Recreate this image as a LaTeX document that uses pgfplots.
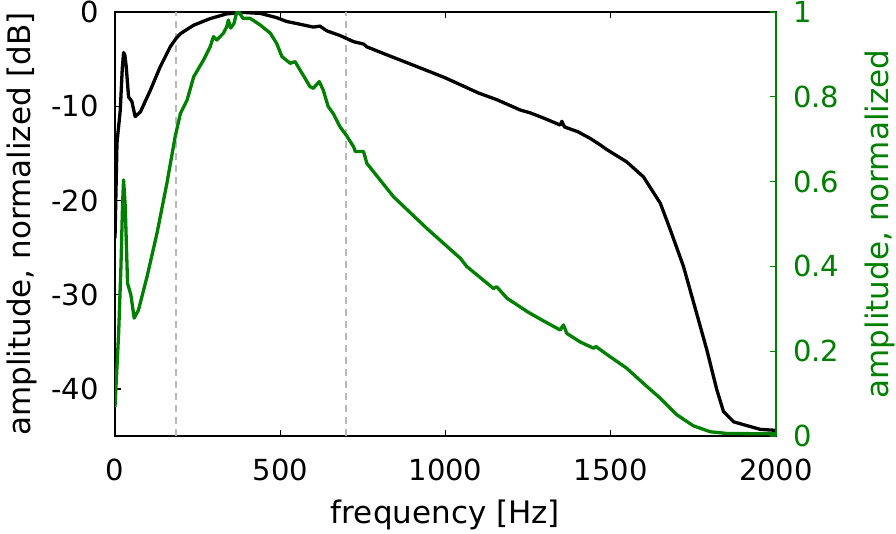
\documentclass[border=0pt]{standalone}
\usepackage{fontspec}
\setmainfont{DejaVu Sans}
\usepackage{pgfplots}
\pgfplotsset{compat=1.18}
\definecolor{mgreen}{RGB}{0,128,0}
\definecolor{dashgray}{RGB}{185,185,185}

\begin{document}
\begin{tikzpicture}
	\begin{axis}[
			width=661pt, height=424pt, scale only axis,
			xmin=0, xmax=2000, ymin=-45, ymax=0,
			xtick={0,500,1000,1500,2000},
			ytick={-40,-30,-20,-10,0},
			xtick pos=both, ytick pos=left,
			tick align=inside,
			major tick length=6pt,
			every tick/.style={black, line width=1.4pt},
			axis line style={line width=1.8pt},
			/pgf/number format/assume math mode=true,
			/pgf/number format/1000 sep={},
			ticklabel style={font=\fontsize{29}{34}\selectfont},
			xticklabel style={anchor=base, inner sep=0pt, yshift=-44pt},
			yticklabel style={anchor=east, inner sep=0pt, xshift=-16pt},
			xlabel={frequency [Hz]},
			ylabel={amplitude, normalized [dB]},
			label style={font=\fontsize{31}{36}\selectfont},
			xlabel style={at={(axis description cs:0.5,0)}, anchor=base, yshift=-87pt},
			ylabel style={at={(axis description cs:-0.1278,0.5)}, anchor=base},
		]
		% band limits
		\addplot[dashgray, line width=1.8pt, dash pattern=on 7pt off 5pt] coordinates {(185,-45) (185,0)};
		\addplot[dashgray, line width=1.8pt, dash pattern=on 7pt off 5pt] coordinates {(700,-45) (700,0)};

		% spectrum in dB
		\addplot[black, line width=3.3pt, line join=round] coordinates {
				(0,-24) (6,-13.9) (16,-10.4) (22,-6) (26,-4.3) (30,-4.6) (34,-5.8)
				(41,-9.0) (51,-9.5) (61,-11.1) (77,-10.6) (107,-8.3) (137,-5.8)
				(167,-3.7) (185,-2.8) (198,-2.3) (238,-1.4) (288,-0.7) (338,-0.2)
				(389,-0.05) (440,-0.15) (489,-0.6) (519,-1.0) (560,-1.3) (600,-1.6)
				(620,-1.5) (641,-2.0) (681,-2.5) (722,-3.15) (752,-3.4) (762,-3.7)
				(812,-4.4) (863,-5.1) (950,-6.3) (1000,-7.0) (1050,-7.8) (1100,-8.6)
				(1155,-9.3) (1226,-10.4) (1256,-10.7) (1300,-11.3) (1347,-12.0)
				(1352,-11.6) (1360,-12.2) (1400,-12.7) (1437,-13.4) (1468,-14.1)
				(1488,-14.6) (1548,-15.9) (1599,-17.5) (1650,-20.3) (1680,-23.1)
				(1720,-27.0) (1760,-32.0) (1791,-35.9) (1821,-40.1) (1841,-42.4)
				(1872,-43.5) (1912,-43.9) (1953,-44.3) (2000,-44.4)
			};
	\end{axis}

	\begin{axis}[
			width=661pt, height=424pt, scale only axis,
			xmin=0, xmax=2000, ymin=0, ymax=1,
			axis x line=none,
			axis y line*=right,
			ytick={0,0.2,0.4,0.6,0.8,1},
			tick align=inside,
			major tick length=6pt,
			every tick/.style={mgreen, line width=1.4pt},
			axis line style={mgreen, line width=1.8pt},
			/pgf/number format/assume math mode=true,
			ticklabel style={font=\fontsize{29}{34}\selectfont, text=mgreen},
			yticklabel style={anchor=west, inner sep=0pt, xshift=17pt},
			ylabel={amplitude, normalized},
			label style={font=\fontsize{31}{36}\selectfont, text=mgreen},
			ylabel style={at={(axis description cs:1.170,0.5)}, anchor=base, rotate=0},
		]
		% spectrum, linear
		\addplot[mgreen, line width=3.3pt, line join=round] coordinates {
				(0,0.069) (11,0.242) (18,0.40) (23,0.55) (26,0.604) (31,0.541) (38,0.36)
				(48,0.333) (58,0.278) (71,0.297) (97,0.376) (127,0.478) (157,0.596)
				(182,0.706) (198,0.761) (218,0.792) (238,0.847) (268,0.887) (288,0.918)
				(298,0.942) (308,0.934) (328,0.95) (338,0.965) (343,0.981) (350,0.962)
				(360,0.973) (368,0.999) (376,0.999) (387,0.985) (409,0.985) (440,0.969)
				(470,0.95) (489,0.926) (505,0.895) (530,0.879) (545,0.883) (560,0.863)
				(590,0.824) (600,0.82) (618,0.836) (630,0.816) (645,0.777) (660,0.761)
				(681,0.729) (701,0.708) (722,0.682) (727,0.671) (752,0.671) (762,0.643)
				(843,0.564) (943,0.49) (1045,0.419) (1064,0.40) (1145,0.348) (1155,0.352)
				(1186,0.325) (1250,0.292) (1300,0.27) (1347,0.25) (1357,0.262) (1367,0.242)
				(1407,0.222) (1448,0.207) (1455,0.211) (1498,0.187) (1548,0.16) (1599,0.124)
				(1650,0.089) (1700,0.05) (1750,0.024) (1801,0.01) (1851,0.006) (2000,0.005)
			};
	\end{axis}

	\pgfresetboundingbox
	\path[use as bounding box] (-115pt,-97pt) rectangle (781pt,436pt);
\end{tikzpicture}
\end{document}
